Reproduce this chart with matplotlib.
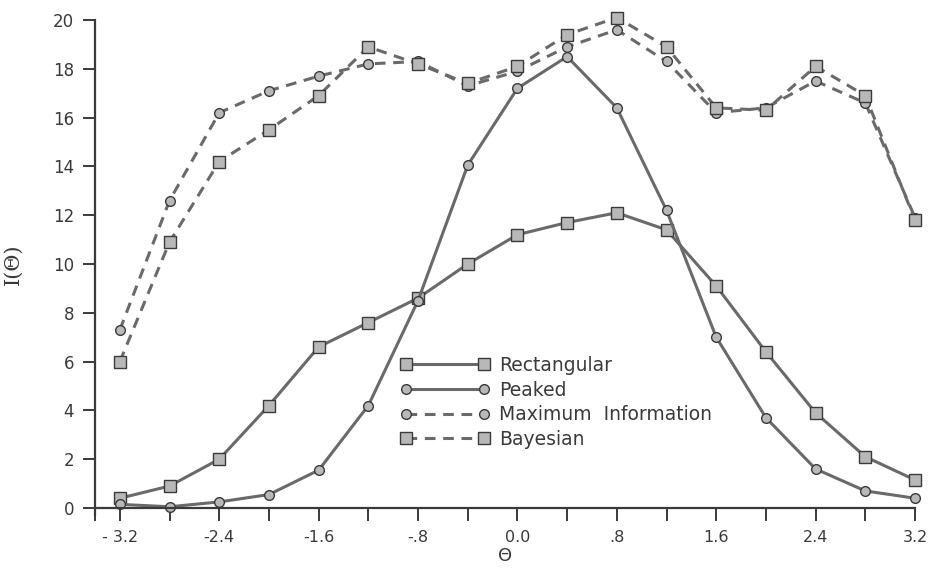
"""Information functions I(theta) for four prior/selection rules (recreated figure)."""
import matplotlib
matplotlib.use("Agg")
import matplotlib.pyplot as plt
import numpy as np

theta = [-3.2, -2.8, -2.4, -2.0, -1.6, -1.2, -0.8, -0.4, 0.0,
         0.4, 0.8, 1.2, 1.6, 2.0, 2.4, 2.8, 3.2]
rectangular = [0.4, 0.9, 2.0, 4.2, 6.6, 7.6, 8.6, 10.0, 11.2,
               11.7, 12.1, 11.4, 9.1, 6.4, 3.9, 2.1, 1.15]
peaked = [0.15, 0.05, 0.25, 0.55, 1.55, 4.2, 8.5, 14.05, 17.2,
          18.5, 16.4, 12.2, 7.0, 3.7, 1.6, 0.7, 0.4]
max_info = [7.3, 12.6, 16.2, 17.1, 17.7, 18.2, 18.3, 17.3, 17.9,
            18.9, 19.6, 18.3, 16.2, 16.4, 17.5, 16.6, 11.9]
bayesian = [6.0, 10.9, 14.2, 15.5, 16.9, 18.9, 18.2, 17.4, 18.1,
            19.4, 20.1, 18.9, 16.4, 16.3, 18.1, 16.9, 11.8]

xtick_pos = [-3.2, -2.4, -1.6, -0.8, 0.0, 0.8, 1.6, 2.4, 3.2]
xtick_lab = ["- 3.2", "-2.4", "-1.6", "-.8", "0.0", ".8", "1.6", "2.4", "3.2"]
xminor_pos = [-3.4, -2.8, -2.0, -1.2, -0.4, 0.4, 1.2, 2.0, 2.8]
ytick_pos = list(range(0, 21, 2))

plt.rcParams["font.family"] = ["DejaVu Sans"]
INK = "#3a3a3a"
FILL = "#b8b8b8"

fig = plt.figure(figsize=(9.33, 5.69), dpi=100)
ax = fig.add_axes([95 / 933, 1 - 508 / 569, 820 / 933, 488 / 569])

series = [
    (rectangular, "Rectangular", "s", "-", 8),
    (peaked, "Peaked", "o", "-", 7),
    (max_info, "Maximum  Information", "o", (0, (3.5, 2.5)), 7),
    (bayesian, "Bayesian", "s", (0, (3.5, 2.5)), 8),
]
for y, lab, mk, ls, ms in series:
    ax.plot(theta, y, color="#6a6a6a", lw=2.2, ls=ls, marker=mk, ms=ms,
            mfc=FILL, mec=INK, mew=1.0, label=lab, clip_on=False)

ax.set_xlim(-3.4, 3.2)
ax.set_ylim(0, 20)
for s in ("top", "right"):
    ax.spines[s].set_visible(False)
for s in ("left", "bottom"):
    ax.spines[s].set_color(INK)
    ax.spines[s].set_linewidth(1.6)
ax.spines["left"].set_bounds(-0.3, 20)

ax.set_xticks(xtick_pos, xtick_lab)
ax.set_xticks(xminor_pos, minor=True)
ax.tick_params(axis="x", which="both", direction="out", length=9, width=1.4,
               color=INK, pad=7, labelsize=11.5, labelcolor=INK)
ax.set_yticks(ytick_pos)
ax.tick_params(axis="y", direction="out", length=9, width=1.4, color=INK,
               labelsize=12, labelcolor=INK, pad=6)

ax.set_xlabel("\u0398", fontsize=13, color=INK, labelpad=1)
ax.set_ylabel("I(\u0398)", fontsize=15, color=INK, labelpad=22,
              family=["DejaVu Serif"])

leg = ax.legend(loc="upper left", bbox_to_anchor=(305 / 820, (508 - 356) / 488),
                frameon=False, numpoints=2, handlelength=4.8, handletextpad=0.5,
                labelspacing=0.3, fontsize=13.5, borderpad=0, borderaxespad=0)
for t in leg.get_texts():
    t.set_color(INK)

fig.savefig("out.png", dpi=100)
